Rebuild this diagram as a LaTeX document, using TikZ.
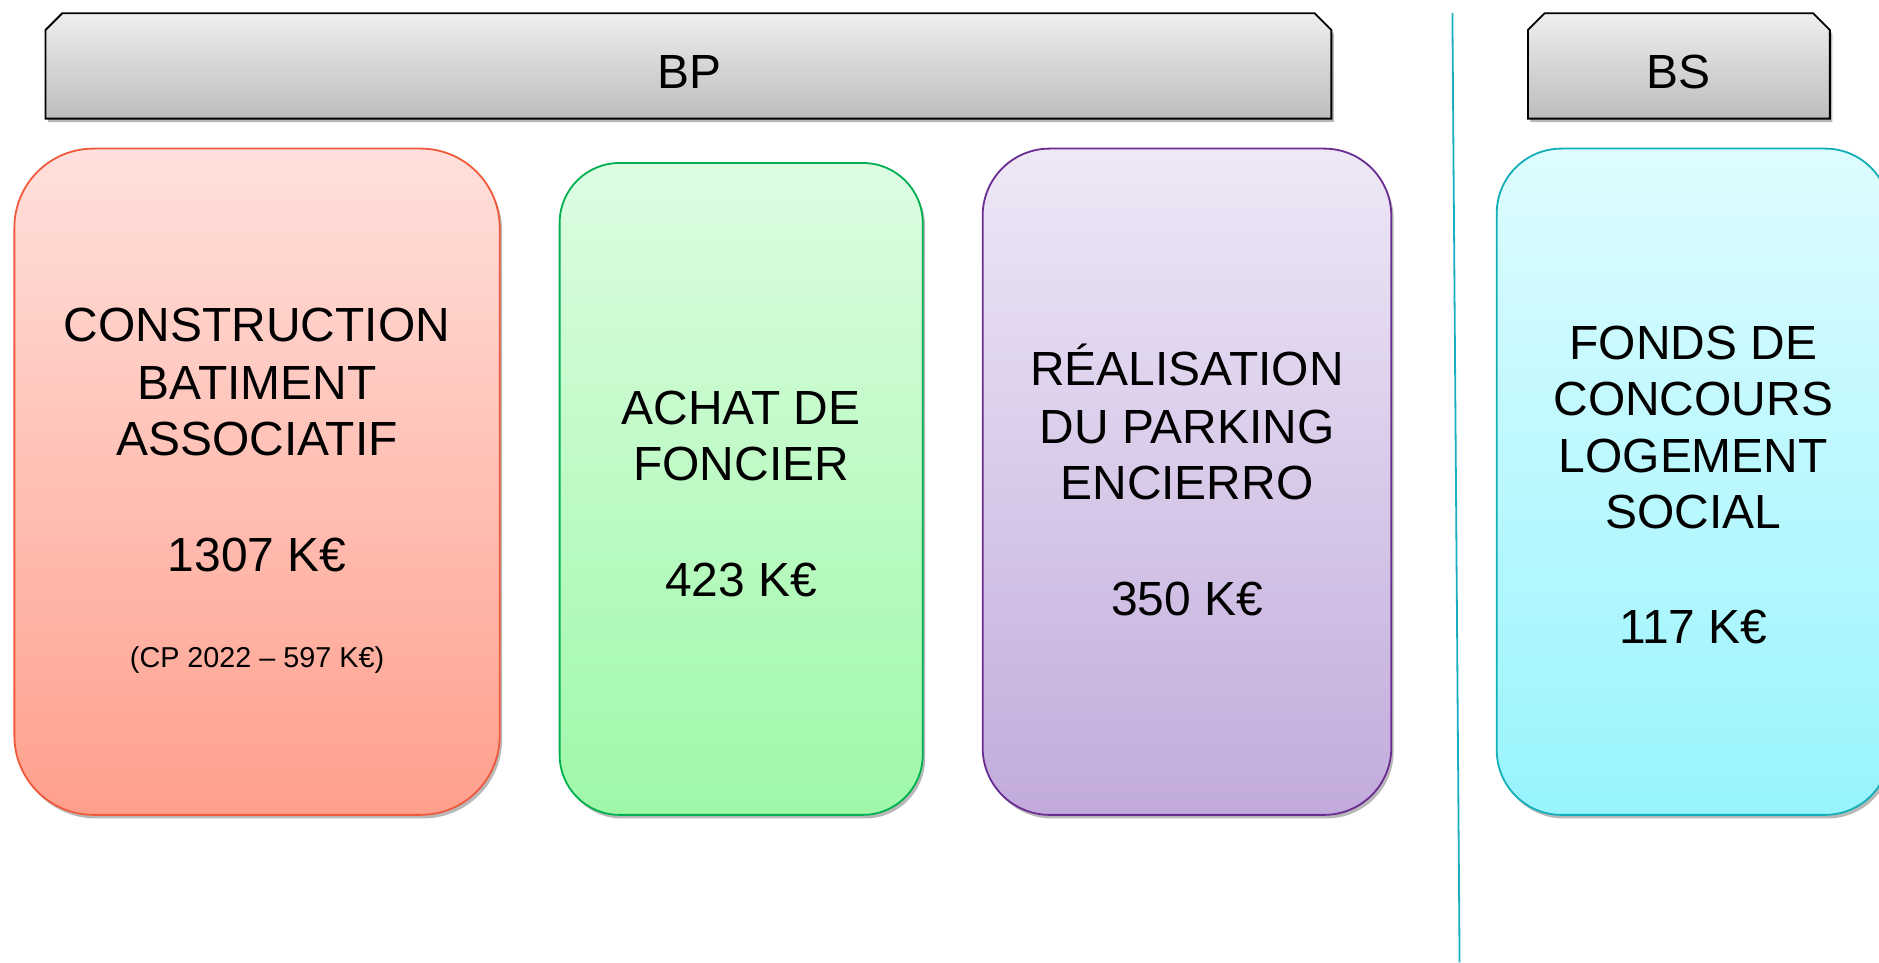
\documentclass[tikz,border=0pt]{standalone}
\usepackage{fontspec}
\setmainfont{Liberation Sans}
\usetikzlibrary{shadows}
\definecolor{redtop}{HTML}{FFE0DC}
\definecolor{redbot}{HTML}{FF9F8C}
\definecolor{redline}{HTML}{F05A3C}
\definecolor{greentop}{HTML}{DDFCE2}
\definecolor{greenbot}{HTML}{9EF8A8}
\definecolor{greenline}{HTML}{00B050}
\definecolor{purptop}{HTML}{EEE8F6}
\definecolor{purpbot}{HTML}{C2ABDC}
\definecolor{purpline}{HTML}{6A2C91}
\definecolor{cyantop}{HTML}{DEFCFF}
\definecolor{cyanbot}{HTML}{98F4FD}
\definecolor{cyanline}{HTML}{12AFB8}
\definecolor{greytop}{HTML}{EEEEEE}
\definecolor{greybot}{HTML}{BDBDBD}
\definecolor{sepline}{HTML}{1AAFC0}
\tikzset{
  softshadow/.style={drop shadow={shadow xshift=2pt,shadow yshift=-3pt,opacity=0.28,fill=black}},
  card/.style={rectangle,softshadow,line width=1.5pt,inner sep=0pt},
  header/.style={draw=black,line width=1.5pt,top color=greytop,bottom color=greybot,softshadow},
  big/.style={anchor=base,inner sep=0pt,font=\fontsize{40}{46}\selectfont},
  small/.style={anchor=base,inner sep=0pt,font=\fontsize{24}{28}\selectfont}
}
\begin{document}
\begin{tikzpicture}[x=1pt,y=-1pt]
\useasboundingbox (0,0) rectangle (1568,803);
\clip (0,0) rectangle (1568,803);
\fill[white] (0,0) rectangle (1568,803);
% headers
\path[header] (38,99) -- (38,25) -- (52,11) -- (1097,11) -- (1111,25) -- (1111,99) -- cycle;
\node[big] (bp) at (575,74) {BP};
\path[header] (1275,99) -- (1275,25) -- (1289,11) -- (1513,11) -- (1527,25) -- (1527,99) -- cycle;
\node[big] (bs) at (1401,74) {BS};
% separator
\coordinate (septop) at (1212,11);
\coordinate (sepbot) at (1218,803);
\draw[sepline,line width=1.5pt] (septop) -- (sepbot);
% cards
\node[card,draw=redline,top color=redtop,bottom color=redbot,rounded corners=66pt,minimum width=405pt,minimum height=556pt] (red) at (214.5,402) {};
\node[card,draw=greenline,top color=greentop,bottom color=greenbot,rounded corners=50pt,minimum width=303pt,minimum height=544pt] (green) at (618.5,408) {};
\node[card,draw=purpline,top color=purptop,bottom color=purpbot,rounded corners=56pt,minimum width=341pt,minimum height=556pt] (purple) at (990.5,402) {};
\node[card,draw=cyanline,top color=cyantop,bottom color=cyanbot,rounded corners=54pt,minimum width=328pt,minimum height=556pt] (cyan) at (1413,402) {};
% red texts
\node[big] (r1) at (214.5,285) {CONSTRUCTION};
\node[big] (r2) at (214.5,333) {BATIMENT};
\node[big] (r3) at (214.5,380) {ASSOCIATIF};
\node[big] (r4) at (214.5,477) {1307 K€};
\node[small] (r5) at (214.5,557) {(CP 2022 – 597 K€)};
% green texts
\node[big] (g1) at (618.5,354) {ACHAT DE};
\node[big] (g2) at (618.5,401) {FONCIER};
\node[big] (g3) at (618.5,498) {423 K€};
% purple texts
\node[big] (p1) at (990.5,322) {RÉALISATION};
\node[big] (p2) at (990.5,370) {DU PARKING};
\node[big] (p3) at (990.5,417) {ENCIERRO};
\node[big] (p4) at (990.5,514) {350 K€};
% cyan texts
\node[big] (c1) at (1413,300) {FONDS DE};
\node[big] (c2) at (1413,347) {CONCOURS};
\node[big] (c3) at (1413,394) {LOGEMENT};
\node[big] (c4) at (1413,441) {SOCIAL};
\node[big] (c5) at (1413,537) {117 K€};
\end{tikzpicture}
\end{document}
